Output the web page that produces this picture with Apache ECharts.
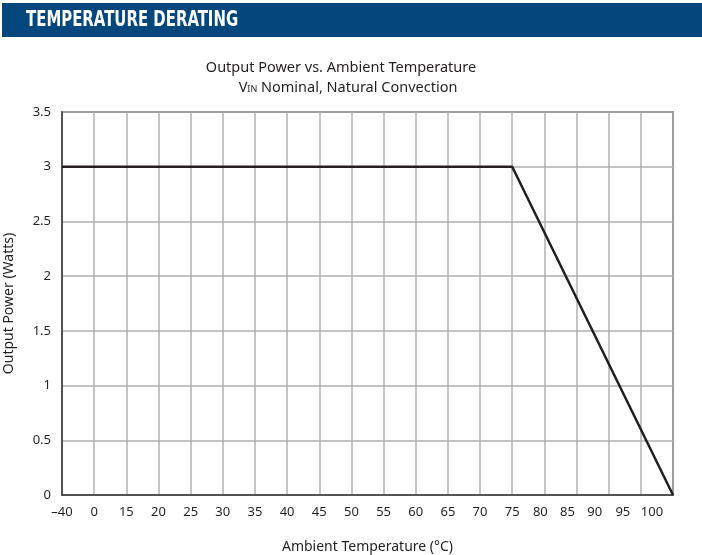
<!DOCTYPE html>
<html>
<head>
<meta charset="utf-8">
<script src="https://cdn.jsdelivr.net/npm/echarts@6/dist/echarts.min.js"></script>
<style>html,body{margin:0;padding:0;background:#fff}#c{width:702px;height:555px}</style>
</head>
<body>
<div id="c"></div>
<script>
// Data
var xCategories = ['-40','0','15','20','25','30','35','40','45','50','55','60','65','70','75','80','85','90','95','100'];
var yTicks = [0, 0.5, 1, 1.5, 2, 2.5, 3, 3.5];
var curveTemp = ['-40', '75', '100'];
var curvePower = [3, 3, 0];
// label shifts as drawn in the reference (labels past 75 are compressed)
var labelShift = {'80': 8, '85': 18, '90': 28, '95': 36, '100': 42};

var chart = echarts.init(document.getElementById('c'), null, {renderer: 'canvas'});
var font = "'Noto Sans', 'Open Sans', sans-serif";
var ink = '#231F20';

var rich = {n: {fontFamily: font, fontSize: 13, color: ink}};
Object.keys(labelShift).forEach(function (k) {
  rich['s' + k] = {fontFamily: font, fontSize: 13, color: ink, padding: [0, labelShift[k], 0, 0]};
});

var option = {
  animation: false,
  graphic: [
    {type: 'rect', shape: {x: 2, y: 3, width: 700, height: 34}, style: {fill: '#03477D'}},
    {type: 'text', x: 26, y: 21, scaleX: 0.79, style: {text: 'TEMPERATURE DERATING', fill: '#fff',
      textVerticalAlign: 'middle',
      font: "bold 21px 'DejaVu Sans Condensed', 'DejaVu Sans', sans-serif"}}
  ],
  title: [
    {text: 'Output Power vs. Ambient Temperature', left: 336, top: 55, textAlign: 'center',
      textStyle: {fontFamily: font, fontSize: 14.5, fontWeight: 'normal', color: ink}},
    {text: 'V{s|IN} Nominal, Natural Convection', left: 343, top: 75, textAlign: 'center',
      textStyle: {fontFamily: font, fontSize: 14.5, fontWeight: 'normal', color: ink,
        rich: {s: {fontFamily: font, fontSize: 9, color: ink, padding: [4, 0, 0, 0]}}}}
  ],
  grid: {left: 62, right: 29, top: 112, bottom: 60, outerBoundsMode: 'none', containLabel: false,
    show: true, borderColor: '#3a3a3a', borderWidth: 1.5},
  xAxis: {
    type: 'category', data: xCategories, boundaryGap: false,
    name: 'Ambient Temperature (°C)', nameLocation: 'middle', nameGap: 45,
    nameTextStyle: {fontFamily: font, fontSize: 14, color: ink},
    axisLine: {lineStyle: {color: '#3a3a3a', width: 1.5}},
    axisTick: {show: false},
    axisLabel: {interval: 0, margin: 11, fontFamily: font, fontSize: 13, color: ink,
      formatter: function (v) {
        var t = v === '-40' ? '\u201340' : v;
        return labelShift[v] ? '{s' + v + '|' + t + '}' : '{n|' + t + '}';
      }, rich: rich},
    splitLine: {show: true, lineStyle: {color: '#b0b0b0', width: 1.5}}
  },
  yAxis: {
    type: 'value', min: 0, max: 3.5, interval: 0.5,
    name: 'Output Power (Watts)', nameLocation: 'middle', nameGap: 46,
    nameTextStyle: {fontFamily: font, fontSize: 14, color: ink},
    axisLine: {show: true, lineStyle: {color: '#3a3a3a', width: 1.5}},
    axisTick: {show: false},
    axisLabel: {margin: 11, fontFamily: font, fontSize: 13, color: ink,
      formatter: function (v) { return yTicks.indexOf(v) >= 0 ? String(v) : ''; }},
    splitLine: {show: true, lineStyle: {color: '#b0b0b0', width: 1.5}}
  },
  series: [{
    type: 'line', symbol: 'none',
    data: curveTemp.map(function (t, i) { return [t, curvePower[i]]; }),
    lineStyle: {color: ink, width: 2.5}
  }]
};
chart.setOption(option);
</script>
</body>
</html>
